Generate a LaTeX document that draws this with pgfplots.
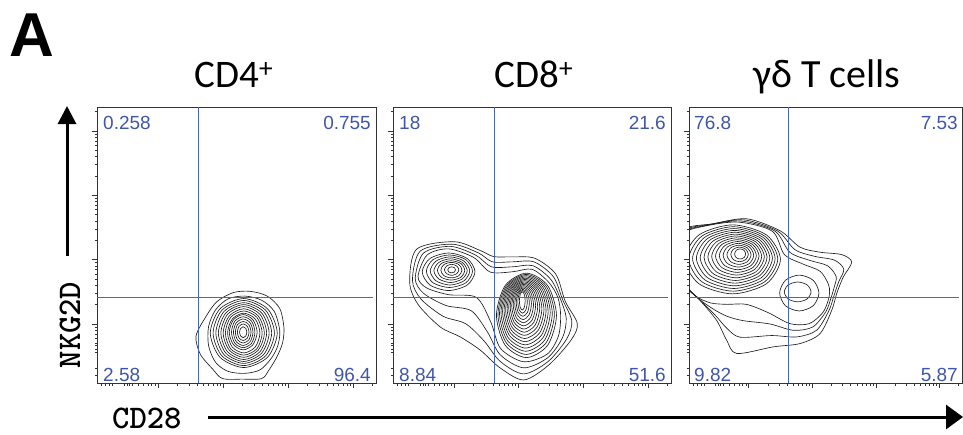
\documentclass[border=0pt]{standalone}
\usepackage{fontspec}
\setmainfont{Liberation Sans}
\newfontfamily\labfont{Liberation Sans}
\newfontfamily\ttlfont{Carlito}
\usepackage{pgfplots}
\pgfplotsset{compat=1.18}
\usetikzlibrary{arrows.meta}
\definecolor{qblue}{RGB}{64,86,168}
\definecolor{qline}{RGB}{72,100,196}
\definecolor{ctc}{RGB}{30,30,30}
\pgfplotsset{
  flow/.style={
    scale only axis, anchor=south west,
    xmin=0, xmax=100, ymin=0, ymax=100,
    xtick={21.9,45.2,68.5,91.8}, ytick={21.4,44.7,68.0,91.3},
    minor xtick={1.5,3,4.5,5.61,9.71,10.8,11.5,12.63,14.89,16.73,18.29,19.64,20.83,28.91,33.01,35.93,38.19,40.03,41.59,42.94,44.13,52.21,56.31,59.23,61.49,63.33,64.89,66.24,67.43,75.51,79.61,82.53,84.79,86.63,88.19,89.54,90.73,98.81},
    minor ytick={2.9,5.4,11,12.2,13.7,14.39,16.23,17.79,19.14,20.33,28.41,32.51,35.43,37.69,39.53,41.09,42.44,43.63,51.71,55.81,58.73,60.99,62.83,64.39,65.74,66.93,75.01,79.11,82.03,84.29,86.13,87.69,89.04,90.23,98.31},
    xticklabels={}, yticklabels={},
    xtick pos=bottom, ytick pos=left,
    tick align=outside,
    major tick length=5pt, minor tick length=2.5pt,
    tick style={black!80, line width=0.6pt},
    axis line style={black!80, line width=0.8pt},
  },
  ct/.style={ctc, line width=0.65pt, smooth cycle},
  gate/.style={qline, line width=1.1pt},
}
\tikzset{qlab/.style={font=\labfont\fontsize{19}{19}\selectfont, text=qblue, inner sep=0pt}}
\begin{document}
\begin{tikzpicture}[x=1pt,y=1pt]
\useasboundingbox (0,0) rectangle (963,-434);
\node[anchor=base west, inner sep=0, font=\labfont\bfseries\fontsize{62}{62}\selectfont] at (9,-56) {A};
\node[anchor=base, inner sep=0, font=\ttlfont\fontsize{39}{39}\selectfont] at (234,-87) {CD4\textsuperscript{+}};
\node[anchor=base, inner sep=0, font=\ttlfont\fontsize{39}{39}\selectfont] at (534,-87) {CD8\textsuperscript{+}};
\node[anchor=base, inner sep=0, font=\ttlfont\fontsize{40}{40}\selectfont] at (827,-87) {γδ T cells};

% ---------------- CD4 ----------------
\begin{axis}[flow, at={(97pt,-383pt)}, width=279pt, height=276pt]
\addplot[ct] coordinates {(67,20) (65.5,27) (61,31.5) (55,33.2) (49,32.8) (43,29.5) (39,24) (35.5,17) (37,10.5) (41.5,5) (45,1.6) (52,1.4) (59,1.6) (61.5,4.5) (64.5,9.5) (66.5,14.5)};
\addplot[ct] coordinates {(65.5,19) (63.5,26) (59,30) (53,31.5) (47,30.5) (42.5,26.5) (40,20.5) (40,13.5) (42.5,7.5) (47,4.2) (53,3.5) (58.5,4.8) (62.5,9) (64.8,13.5)};
\addplot[ct] coordinates {(64.6,18.1) (61.1,26.9) (52.6,30.6) (44.1,26.9) (40.6,18.1) (44.1,9.3) (52.6,5.6) (61.1,9.3)};
\addplot[ct] coordinates {(63.6,18.1) (60.4,26.4) (52.6,29.9) (44.8,26.4) (41.6,18.1) (44.8,9.8) (52.6,6.3) (60.4,9.8)};
\addplot[ct] coordinates {(62.6,18.1) (59.7,25.9) (52.6,29.1) (45.5,25.9) (42.6,18.1) (45.5,10.3) (52.6,7.1) (59.7,10.3)};
\addplot[ct] coordinates {(61.7,18.1) (59.0,25.4) (52.6,28.4) (46.2,25.4) (43.5,18.1) (46.2,10.8) (52.6,7.8) (59.0,10.8)};
\addplot[ct] coordinates {(60.8,18.1) (58.4,24.9) (52.6,27.7) (46.8,24.9) (44.4,18.1) (46.8,11.3) (52.6,8.5) (58.4,11.3)};
\addplot[ct] coordinates {(60.0,18.1) (57.8,24.3) (52.6,26.9) (47.4,24.3) (45.2,18.1) (47.4,11.9) (52.6,9.3) (57.8,11.9)};
\addplot[ct] coordinates {(59.2,18.1) (57.3,23.8) (52.6,26.1) (47.9,23.8) (46.0,18.1) (47.9,12.4) (52.6,10.1) (57.3,12.4)};
\addplot[ct] coordinates {(58.4,18.1) (56.7,23.2) (52.6,25.3) (48.5,23.2) (46.8,18.1) (48.5,13.0) (52.6,10.9) (56.7,13.0)};
\addplot[ct] coordinates {(57.4,18.4) (55.9,22.9) (52.4,24.8) (48.9,22.9) (47.4,18.4) (48.9,13.9) (52.4,12.0) (55.9,13.9)};
\addplot[ct] coordinates {(56.6,18.4) (55.4,22.4) (52.4,24.0) (49.4,22.4) (48.2,18.4) (49.4,14.4) (52.4,12.8) (55.4,14.4)};
\addplot[ct] coordinates {(55.9,18.4) (54.9,21.8) (52.4,23.2) (49.9,21.8) (48.9,18.4) (49.9,15.0) (52.4,13.6) (54.9,15.0)};
\addplot[ct] coordinates {(55.2,18.4) (54.4,21.2) (52.4,22.3) (50.4,21.2) (49.6,18.4) (50.4,15.6) (52.4,14.5) (54.4,15.6)};
\addplot[ct] coordinates {(54.5,18.4) (53.9,20.5) (52.4,21.4) (50.9,20.5) (50.3,18.4) (50.9,16.3) (52.4,15.4) (53.9,16.3)};
\addplot[ct] coordinates {(53.7,18.4) (53.3,19.8) (52.4,20.4) (51.5,19.8) (51.1,18.4) (51.5,17.0) (52.4,16.4) (53.3,17.0)};
\addplot[gate] coordinates {(36.5,0) (36.5,100)};
\addplot[gate] coordinates {(0,31.0) (99,31.0)};
\node[qlab, anchor=base west, xshift=6pt, yshift=-22pt] at (rel axis cs:0,1) {0.258};
\node[qlab, anchor=base east, xshift=-5pt, yshift=-22pt] at (rel axis cs:1,1) {0.755};
\node[qlab, anchor=base west, xshift=6pt, yshift=2pt] at (rel axis cs:0,0) {2.58};
\node[qlab, anchor=base east, xshift=-5pt, yshift=2pt] at (rel axis cs:1,0) {96.4};
\end{axis}

% ---------------- CD8 ----------------
\begin{axis}[flow, at={(393pt,-383pt)}, width=278pt, height=276pt]
\addplot[ct] coordinates {(66.3,21.5) (62,29.5) (58.5,39.5) (51,45.2) (43,45.7) (36.2,45.8) (31.4,48) (22,51.2) (8.5,48.5) (6,36.5) (9,28.5) (17,20.3) (24.2,16.7) (31.4,11.9) (38.5,5.5) (47,1.1) (56,6.5) (64,15.5)};
\addplot[ct] coordinates {(64.3,22.5) (61.1,30) (57.7,38.5) (50.7,43.9) (43,43.9) (35.8,43.9) (30.6,47.2) (21.3,50.3) (9.8,47.8) (7,37.2) (10,30.5) (18,24.2) (26.1,21.5) (32.7,15.3) (38.6,7.8) (47,3.3) (55.8,7.8) (62.5,16)};
\addplot[ct] coordinates {(62.3,23.5) (60.2,30.5) (56.8,37.5) (50.3,42.5) (43,42.1) (35.4,42.1) (29.8,46.3) (20.7,49.5) (11,47.1) (8,37.8) (11,32.5) (19,28.1) (28.1,26.2) (33.9,18.6) (38.6,10.2) (47,5.5) (55.7,9.2) (61,16.5)};
\addplot[ct] coordinates {(60.3,24.5) (59.3,31) (56,36.5) (50,41.2) (43,40.3) (35,40.2) (29,45.5) (20,48.6) (12.3,46.4) (9,38.5) (12,34.5) (20,32) (30,31) (35.2,22) (38.7,12.5) (47,7.7) (55.5,10.5) (59.5,17)};
\addplot[ct] coordinates {(29.5,40.3) (26.7,45.1) (20,47.1) (13.3,45.1) (10.5,40.3) (13.3,35.5) (20,33.5) (26.7,35.5)};
\addplot[ct] coordinates {(28.6,40.5) (26.2,44.7) (20.3,46.4) (14.4,44.7) (12,40.5) (14.4,36.3) (20.3,34.6) (26.2,36.3)};
\addplot[ct] coordinates {(27.6,40.6) (25.5,44.2) (20.5,45.7) (15.5,44.2) (13.4,40.6) (15.5,37) (20.5,35.5) (25.5,37)};
\addplot[ct] coordinates {(26.7,40.7) (24.9,43.7) (20.7,45) (16.5,43.7) (14.7,40.7) (16.5,37.7) (20.7,36.4) (24.9,37.7)};
\addplot[ct] coordinates {(25.8,40.8) (24.4,43.3) (20.9,44.3) (17.4,43.3) (16,40.8) (17.4,38.3) (20.9,37.3) (24.4,38.3)};
\addplot[ct] coordinates {(24.8,40.9) (23.7,42.9) (21,43.7) (18.3,42.9) (17.2,40.9) (18.3,38.9) (21,38.1) (23.7,38.9)};
\addplot[ct] coordinates {(23.7,41) (22.9,42.4) (21.1,43) (19.3,42.4) (18.5,41) (19.3,39.6) (21.1,39) (22.9,39.6)};
\addplot[ct] coordinates {(22.5,41) (22.1,41.8) (21.1,42.1) (20.1,41.8) (19.7,41) (20.1,40.2) (21.1,39.9) (22.1,40.2)};
\addplot[ct] coordinates {(58.8,24.5) (55.64,35.32) (48,39.8) (40.36,35.32) (37.2,24.5) (40.36,13.68) (48,9.2) (55.64,13.68)};
\addplot[ct] coordinates {(58.05,24.85) (55.08,35.1) (47.9,39.35) (40.72,35.1) (37.75,24.85) (40.72,14.6) (47.9,10.35) (55.08,14.6)};
\addplot[ct] coordinates {(57.3,25.2) (54.52,34.89) (47.8,38.9) (41.08,34.89) (38.3,25.2) (41.08,15.51) (47.8,11.5) (54.52,15.51)};
\addplot[ct] coordinates {(56.55,25.55) (53.96,34.67) (47.7,38.45) (41.44,34.67) (38.85,25.55) (41.44,16.43) (47.7,12.65) (53.96,16.43)};
\addplot[ct] coordinates {(55.8,25.9) (53.4,34.45) (47.6,38) (41.8,34.45) (39.4,25.9) (41.8,17.35) (47.6,13.8) (53.4,17.35)};
\addplot[ct] coordinates {(55.05,26.25) (52.84,34.24) (47.5,37.55) (42.16,34.24) (39.95,26.25) (42.16,18.26) (47.5,14.95) (52.84,18.26)};
\addplot[ct] coordinates {(54.3,26.6) (52.28,34.02) (47.4,37.1) (42.52,34.02) (40.5,26.6) (42.52,19.18) (47.4,16.1) (52.28,19.18)};
\addplot[ct] coordinates {(53.55,26.95) (51.72,33.81) (47.3,36.65) (42.88,33.81) (41.05,26.95) (42.88,20.09) (47.3,17.25) (51.72,20.09)};
\addplot[ct] coordinates {(52.8,27.3) (51.16,33.59) (47.2,36.2) (43.24,33.59) (41.6,27.3) (43.24,21.01) (47.2,18.4) (51.16,21.01)};
\addplot[ct] coordinates {(52.05,27.65) (50.6,33.38) (47.1,35.75) (43.6,33.38) (42.15,27.65) (43.6,21.92) (47.1,19.55) (50.6,21.92)};
\addplot[ct] coordinates {(51.3,28) (50.04,33.16) (47,35.3) (43.96,33.16) (42.7,28) (43.96,22.84) (47,20.7) (50.04,22.84)};
\addplot[ct] coordinates {(50.55,28.35) (49.48,32.95) (46.9,34.85) (44.32,32.95) (43.25,28.35) (44.32,23.75) (46.9,21.85) (49.48,23.75)};
\addplot[ct] coordinates {(49.8,28.7) (48.92,32.73) (46.8,34.4) (44.68,32.73) (43.8,28.7) (44.68,24.67) (46.8,23) (48.92,24.67)};
\addplot[ct] coordinates {(49.05,29.05) (48.36,32.51) (46.7,33.95) (45.04,32.51) (44.35,29.05) (45.04,25.59) (46.7,24.15) (48.36,25.59)};
\addplot[ct] coordinates {(48.3,29.4) (47.8,32.3) (46.6,33.5) (45.4,32.3) (44.9,29.4) (45.4,26.5) (46.6,25.3) (47.8,26.5)};
\addplot[ct] coordinates {(47.55,29.75) (47.24,32.08) (46.5,33.05) (45.76,32.08) (45.45,29.75) (45.76,27.42) (46.5,26.45) (47.24,27.42)};
\addplot[gate] coordinates {(36.4,0) (36.4,100)};
\addplot[gate] coordinates {(0,31.0) (99,31.0)};
\node[qlab, anchor=base west, xshift=6pt, yshift=-22pt] at (rel axis cs:0,1) {18};
\node[qlab, anchor=base east, xshift=-5pt, yshift=-22pt] at (rel axis cs:1,1) {21.6};
\node[qlab, anchor=base west, xshift=6pt, yshift=2pt] at (rel axis cs:0,0) {8.84};
\node[qlab, anchor=base east, xshift=-5pt, yshift=2pt] at (rel axis cs:1,0) {51.6};
\end{axis}

% ---------------- gamma delta ----------------
\begin{axis}[flow, at={(689pt,-383pt)}, width=273pt, height=276pt]
\addplot[ct] coordinates {(59.6,43.8) (56,46.5) (48,47.4) (40.7,49.2) (33.3,55.2) (21.1,59.5) (8.9,57.7) (-2,55.5) (-2,45) (-2,36) (4,30) (10.1,22.7) (13.8,15.5) (17.5,10.7) (30.9,13.1) (40.7,14.3) (48,17.9) (52.3,26.4) (54.1,32.4) (56.5,38.4)};
\addplot[ct] coordinates {(56.7,41.2) (53.3,44.5) (46,45.9) (38.8,48.3) (32.4,55.1) (20.1,59.1) (7.9,57.5) (-2,55) (-2,45) (-2,36.3) (3.5,30.5) (9.4,24.8) (13.9,19.8) (18.7,16.6) (30.3,17.2) (39.5,16.7) (46.7,19.1) (51.2,26.1) (53.1,31.6) (54.8,36.6)};
\addplot[ct] coordinates {(53.9,38.6) (50.7,42.5) (44,44.5) (36.9,47.4) (31.4,55.1) (19,58.7) (6.9,57.2) (-2,54.5) (-2,45) (-2,36.7) (3,31) (8.7,26.9) (13.9,24.2) (19.8,22.6) (29.6,21.4) (38.2,19.1) (45.3,20.3) (50.1,25.8) (52,30.8) (53.2,34.8)};
\addplot[ct] coordinates {(51,36) (48,40.5) (42,43) (35,46.5) (30.5,55) (18,58.3) (5.5,56.8) (-2,54) (-2,45) (-2,37) (2.5,31.5) (8,29) (14,28.5) (21,28.5) (29,25.5) (37,21.5) (44,21.5) (49,25.5) (51,30) (51.5,33)};
\addplot[ct] coordinates {(33.5,44.8) (28.37,53.64) (16.0,57.3) (3.63,53.64) (-1.5,44.8) (3.63,35.96) (16.0,32.3) (28.37,35.96)};
\addplot[ct] coordinates {(32.52,44.95) (27.74,53.21) (16.21,56.63) (4.68,53.21) (-0.1,44.95) (4.68,36.69) (16.21,33.27) (27.74,36.69)};
\addplot[ct] coordinates {(31.54,45.1) (27.11,52.78) (16.42,55.96) (5.73,52.78) (1.3,45.1) (5.73,37.42) (16.42,34.24) (27.11,37.42)};
\addplot[ct] coordinates {(30.56,45.25) (26.48,52.35) (16.63,55.29) (6.78,52.35) (2.7,45.25) (6.78,38.15) (16.63,35.21) (26.48,38.15)};
\addplot[ct] coordinates {(29.58,45.4) (25.85,51.92) (16.84,54.62) (7.83,51.92) (4.1,45.4) (7.83,38.88) (16.84,36.18) (25.85,38.88)};
\addplot[ct] coordinates {(28.6,45.55) (25.22,51.49) (17.05,53.95) (8.88,51.49) (5.5,45.55) (8.88,39.61) (17.05,37.15) (25.22,39.61)};
\addplot[ct] coordinates {(27.62,45.7) (24.58,51.06) (17.26,53.28) (9.94,51.06) (6.9,45.7) (9.94,40.34) (17.26,38.12) (24.58,40.34)};
\addplot[ct] coordinates {(26.64,45.85) (23.95,50.63) (17.47,52.61) (10.99,50.63) (8.3,45.85) (10.99,41.07) (17.47,39.09) (23.95,41.07)};
\addplot[ct] coordinates {(25.66,46.0) (23.32,50.2) (17.68,51.94) (12.04,50.2) (9.7,46.0) (12.04,41.8) (17.68,40.06) (23.32,41.8)};
\addplot[ct] coordinates {(24.68,46.15) (22.69,49.77) (17.89,51.27) (13.09,49.77) (11.1,46.15) (13.09,42.53) (17.89,41.03) (22.69,42.53)};
\addplot[ct] coordinates {(23.7,46.3) (22.06,49.34) (18.1,50.6) (14.14,49.34) (12.5,46.3) (14.14,43.26) (18.1,42.0) (22.06,43.26)};
\addplot[ct] coordinates {(22.72,46.45) (21.43,48.91) (18.31,49.93) (15.19,48.91) (13.9,46.45) (15.19,43.99) (18.31,42.97) (21.43,43.99)};
\addplot[ct] coordinates {(21.74,46.6) (20.8,48.48) (18.52,49.26) (16.24,48.48) (15.3,46.6) (16.24,44.72) (18.52,43.94) (20.8,44.72)};
\addplot[ct] coordinates {(20.76,46.75) (20.17,48.05) (18.73,48.59) (17.29,48.05) (16.7,46.75) (17.29,45.45) (18.73,44.91) (20.17,45.45)};
\addplot[ct] coordinates {(47.6,32.6) (45.49,37.2) (40.4,39.1) (35.31,37.2) (33.2,32.6) (35.31,28.0) (40.4,26.1) (45.49,28.0)};
\addplot[ct] coordinates {(44.7,33) (43.26,35.55) (39.8,36.6) (36.34,35.55) (34.9,33) (36.34,30.45) (39.8,29.4) (43.26,30.45)};
\addplot[gate] coordinates {(36.6,0) (36.6,100)};
\addplot[gate] coordinates {(0,31.0) (99,31.0)};
\node[qlab, anchor=base west, xshift=5pt, yshift=-22pt] at (rel axis cs:0,1) {76.8};
\node[qlab, anchor=base east, xshift=-4pt, yshift=-22pt] at (rel axis cs:1,1) {7.53};
\node[qlab, anchor=base west, xshift=5pt, yshift=2pt] at (rel axis cs:0,0) {9.82};
\node[qlab, anchor=base east, xshift=-4pt, yshift=2pt] at (rel axis cs:1,0) {5.87};
\end{axis}

\draw[line width=3pt, -{Triangle[length=18pt,width=18pt]}] (67,-256) -- (67,-106);
\draw[line width=3pt, -{Triangle[length=17pt,width=24pt]}] (208,-417) -- (963,-417);
\node[rotate=90, inner sep=0, font=\ttfamily\bfseries\fontsize{33}{33}\selectfont] at (70,-325) {NKG2D};
\node[anchor=base west, inner sep=0, font=\ttfamily\bfseries\fontsize{33}{33}\selectfont] at (112,-428) {CD28};
\end{tikzpicture}
\end{document}
